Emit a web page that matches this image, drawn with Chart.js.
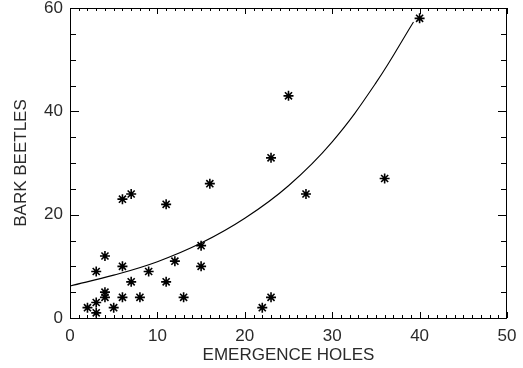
<!DOCTYPE html>
<html>
<head>
<meta charset="utf-8">
<script src="https://cdn.jsdelivr.net/npm/chart.js@4/dist/chart.umd.min.js"></script>
<style>
  html, body { margin: 0; padding: 0; background: #fff; }
  #wrap { width: 523px; height: 368px; position: relative; }
</style>
</head>
<body>
<div id="wrap"><canvas id="myChart"></canvas></div>
<script>
// observed counts per tree
const holes   = [2, 3, 3, 3, 4, 4, 4, 5, 6, 6, 6, 7, 7, 8, 9, 11, 11, 12, 13, 15, 15, 16, 22, 23, 23, 25, 27, 36, 40];
const beetles = [2, 3, 1, 9, 12, 5, 4, 2, 23, 10, 4, 24, 7, 4, 9, 22, 7, 11, 4, 14, 10, 26, 2, 4, 31, 43, 24, 27, 58];

// fitted curve
const fitX = [0, 5, 10, 15, 20, 25, 30, 35, 39.3];
const fitY = [6.2, 8.3, 10.9, 14.5, 19.3, 25.6, 34.1, 45.5, 57.3];

const xTicks = [0, 10, 20, 30, 40, 50];
const yTicks = [0, 20, 40, 60];

const textColor = '#2a2a2a';
const axisFont = { family: '"Liberation Sans", Arial, sans-serif', size: 17 };

// ticks pointing inward on all four sides, like the original plot
const innerTicks = {
    id: 'innerTicks',
    afterDraw(chart) {
        const { ctx, chartArea: a, scales: { x, y } } = chart;
        ctx.save();
        ctx.strokeStyle = '#000';
        ctx.lineWidth = 1;
        ctx.strokeRect(a.left + 0.5, a.top + 0.5, a.right - a.left - 1, a.bottom - a.top);
        ctx.beginPath();
        for (let v = x.min; v <= x.max; v += 1) {
            const px = Math.round(x.getPixelForValue(v)) + 0.5;
            const len = v % 10 === 0 ? 6 : 3;
            ctx.moveTo(px, a.bottom); ctx.lineTo(px, a.bottom - len);
            ctx.moveTo(px, a.top); ctx.lineTo(px, a.top + len);
        }
        for (let v = y.min; v <= y.max; v += 5) {
            const py = Math.round(y.getPixelForValue(v)) + 0.5;
            const len = v % 20 === 0 ? 9 : 6;
            ctx.moveTo(a.left, py); ctx.lineTo(a.left + len, py);
            ctx.moveTo(a.right, py); ctx.lineTo(a.right - len, py);
        }
        ctx.stroke();
        ctx.restore();
    }
};

const points = holes.map((h, i) => ({ x: h, y: beetles[i] }));
const curve = fitX.map((v, i) => ({ x: v, y: fitY[i] }));

new Chart(document.getElementById('myChart'), {
    type: 'scatter',
    data: {
        datasets: [
            {
                label: 'trees',
                data: points,
                pointStyle: 'star',
                pointRadius: 5,
                pointBorderWidth: 1.6,
                borderColor: '#000',
                backgroundColor: '#000',
                clip: false
            },
            {
                label: 'fit',
                type: 'line',
                data: curve,
                borderColor: '#000',
                borderWidth: 1.1,
                pointRadius: 0,
                fill: false,
                tension: 0.4
            }
        ]
    },
    options: {
        responsive: true,
        maintainAspectRatio: false,
        animation: false,
        events: [],
        layout: { padding: { top: 8, right: 16, left: 0, bottom: 0 } },
        plugins: {
            legend: { display: false },
            tooltip: { enabled: false }
        },
        scales: {
            x: {
                type: 'linear',
                min: 0,
                max: 50,
                grid: { display: false, drawTicks: false },
                border: { display: false },
                afterBuildTicks: s => { s.ticks = xTicks.map(v => ({ value: v })); },
                afterFit: s => { s.height = 50; s.paddingLeft = 0; s.paddingRight = 0; },
                ticks: { color: textColor, font: axisFont, padding: 8, maxRotation: 0, autoSkip: false },
                title: {
                    display: true,
                    text: 'EMERGENCE HOLES',
                    color: textColor,
                    font: axisFont,
                    padding: { top: 0, bottom: 2 }
                }
            },
            y: {
                min: 0,
                max: 60,
                grid: { display: false, drawTicks: false },
                border: { display: false },
                afterBuildTicks: s => { s.ticks = yTicks.map(v => ({ value: v })); },
                afterFit: s => { s.width = 70; s.paddingTop = 0; s.paddingBottom = 0; },
                ticks: { color: textColor, font: axisFont, padding: 7 },
                title: {
                    display: true,
                    text: 'BARK BEETLES',
                    color: textColor,
                    font: axisFont,
                    padding: { top: 11, bottom: 0 }
                }
            }
        }
    },
    plugins: [innerTicks]
});
</script>
</body>
</html>
